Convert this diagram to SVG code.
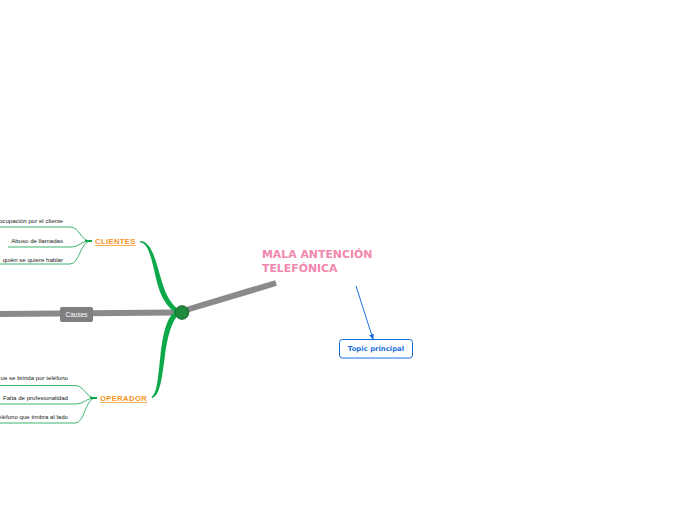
<svg xmlns="http://www.w3.org/2000/svg" width="696" height="520" viewBox="0 0 696 520">
<defs>
<marker id="ah" viewBox="0 0 6 6" refX="5" refY="3" markerWidth="6" markerHeight="6" orient="auto">
<path d="M0,0.5 L6,3 L0,5.5 Z" fill="#1a6fe0"/>
</marker>
</defs>
<style>
.leaf{fill:none;stroke:#3cb46e;stroke-width:1}
.lt{font-family:"Liberation Sans",Arial,sans-serif;font-size:6.1px;fill:#222;text-anchor:end}
.main{font-family:"Liberation Sans",Arial,sans-serif;font-size:7.6px;font-weight:bold;fill:#f7941d;text-decoration:underline;letter-spacing:0.4px}
.gray{stroke:#8a8a8c;stroke-width:6;fill:none}
.br{fill:#0ca84a}
</style>
<rect width="696" height="520" fill="#fff"/>
<g id="connectors">
<path class="gray" d="M0,314 L176,312.5"/>
<path class="gray" d="M186,310 L276,283"/>
<path class="br" d="M140,241 C152,241 156,262 162,282 C166,296 172,306 182,312 L180,315 C170,311 162,300 158,286 C152,264 150,243 140,242.2 Z"/>
<path class="br" d="M182,312 C172,318 168,335 165,355 C162,378 160,396 152,398 L151.5,396.8 C157,394 158,378 160.5,355 C163,333 167,316 176,311 Z"/>
<path class="leaf" d="M91,241 C80,241 80,227 70,227 L0,227"/>
<path class="leaf" d="M91,241 C80,241 80,247 70,247 L8,247"/>
<path class="leaf" d="M91,241 C80,241 80,264 70,264 L0,264"/>
<path d="M85,241 L92,241" stroke="#0ca84a" stroke-width="2"/>
<path class="leaf" d="M96,398 C85,398 85,385.5 75,385.5 L0,385.5"/>
<path class="leaf" d="M96,398 C85,398 85,404 75,404 L0,404"/>
<path class="leaf" d="M96,398 C85,398 85,423 75,423 L0,423"/>
<path d="M90,398 L97,398" stroke="#0ca84a" stroke-width="2"/>
<path d="M356,286 L373,339" stroke="#1a6fe0" stroke-width="1" fill="none" marker-end="url(#ah)"/>
</g>
<g id="center">
<circle cx="182" cy="312.5" r="6.8" fill="#1f8a3b" stroke="#16662b" stroke-width="1"/>
</g>
<g id="causes">
<rect x="60" y="307" width="33" height="15" rx="2" fill="#7f7f81"/>
<text x="76.5" y="317" font-family="'Liberation Sans',Arial,sans-serif" font-size="6.5" fill="#fff" text-anchor="middle">Causes</text>
</g>
<g id="title">
<text font-family="'DejaVu Sans',Verdana,sans-serif" font-size="10.9" font-weight="bold" fill="#f287ae"><tspan x="262" y="258">MALA ANTENCIÓN</tspan><tspan x="262" y="272">TELEFÓNICA</tspan></text>
</g>
<g id="topic">
<rect x="339.5" y="339.5" width="73" height="18.5" rx="3" fill="#fff" stroke="#1a6fe0" stroke-width="1"/>
<text x="376" y="351.2" font-family="'DejaVu Sans',Verdana,sans-serif" font-size="6.9" font-weight="bold" fill="#1a6fe0" text-anchor="middle">Topic principal</text>
</g>
<g id="clientes">
<text class="main" x="95" y="244">CLIENTES</text>
</g>
<g id="operador">
<text class="main" x="100" y="401">OPERADOR</text>
</g>
<g id="leaf-c1"><text class="lt" x="63" y="223">eocupación por el cliente</text></g>
<g id="leaf-c2"><text class="lt" x="63" y="243">Abuso de llamadas</text></g>
<g id="leaf-c3"><text class="lt" x="63" y="262">quién se quiere hablar</text></g>
<g id="leaf-o1"><text class="lt" x="68" y="380">ue se brinda por teléfono</text></g>
<g id="leaf-o2"><text class="lt" x="68" y="400">Falta de profesionalidad</text></g>
<g id="leaf-o3"><text class="lt" x="68" y="419">eléfono que timbra al lado</text></g>
</svg>
